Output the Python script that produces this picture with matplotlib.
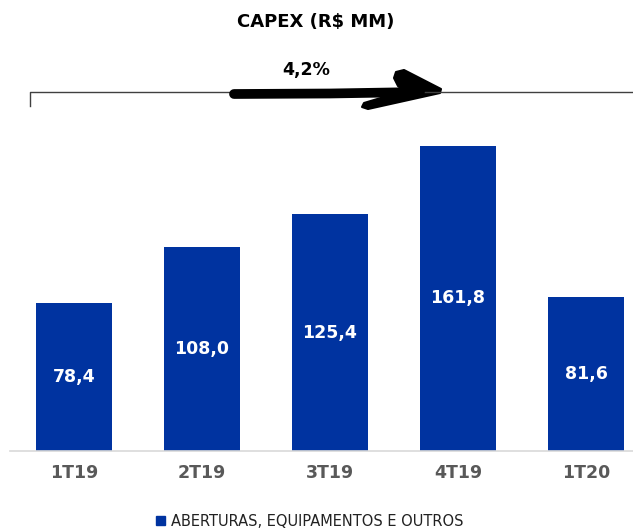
import matplotlib.pyplot as plt
from matplotlib.lines import Line2D
from matplotlib.patches import Patch, Polygon

plt.rcParams['font.family'] = ['Liberation Sans Narrow', 'DejaVu Sans']

quarters = ["1T19", "2T19", "3T19", "4T19", "1T20"]
capex = [78.4, 108.0, 125.4, 161.8, 81.6]
growth_label = "4,2%"
series_name = "ABERTURAS, EQUIPAMENTOS E OUTROS"

W, H = 633, 529
blue = "#0033A0"

fig = plt.figure(figsize=(W / 100, H / 100), dpi=100)

def fx(px):
    return px / W

def fy(py):
    return 1 - py / H

# axes: baseline at y=451, 128 px per category
left, bottom, top = 10, 451, 92
ax = fig.add_axes([fx(left), fy(bottom), fx(W - left), (bottom - top) / H])
x = range(len(quarters))
bars = ax.bar(x, capex, width=0.586, color=blue, zorder=2)
ax.set_xlim(-0.5, -0.5 + (W - left) / 128)
ax.set_ylim(0, (bottom - top) / 1.887)

for b, v in zip(bars, capex):
    ax.text(b.get_x() + b.get_width() / 2, v / 2, f"{v:.1f}".replace(".", ","),
            ha="center", va="center", color="white", fontsize=12.5, fontweight="bold")

for s in ["top", "right", "left"]:
    ax.spines[s].set_visible(False)
ax.spines["bottom"].set_color("#d9d9d9")
ax.spines["bottom"].set_linewidth(1.2)
ax.set_yticks([])
ax.set_xticks(list(x))
ax.set_xticklabels(quarters, fontsize=12.5, fontweight="bold", color="#595959")
ax.tick_params(axis="x", length=0, pad=9)

fig.text(fx(316), fy(22), "CAPEX (R$ MM)", ha="center", va="center",
         fontsize=13, fontweight="bold", color="black")

# growth bracket
fig.add_artist(Line2D([fx(30), fx(30), fx(W)], [fy(106), fy(92), fy(92)],
                      color="#404040", lw=1))

# brush-style arrow: thick shaft plus a filled head
fig.add_artist(Line2D([fx(234), fx(330), fx(420)], [fy(94), fy(93.5), fy(92)],
                      lw=7, color="black", solid_capstyle="round"))
head = [(394, 78), (396, 72), (404, 70), (441, 89), (440, 93), (368, 109),
        (362, 107), (364, 103), (404, 91), (398, 86)]
fig.add_artist(Polygon([(fx(a), fy(b)) for a, b in head], closed=True,
                       transform=fig.transFigure, facecolor="black",
                       edgecolor="black", lw=1.5, joinstyle="round"))
fig.text(fx(306), fy(70), growth_label, ha="center", va="center",
         fontsize=12.5, fontweight="bold", color="black")

fig.legend(handles=[Patch(color=blue, label=series_name)], loc="center",
           bbox_to_anchor=(fx(310), fy(521)), frameon=False, fontsize=10.5,
           handlelength=0.6, handleheight=0.6, handletextpad=0.4,
           labelcolor="#222222")

fig.savefig("out.png", dpi=100)
